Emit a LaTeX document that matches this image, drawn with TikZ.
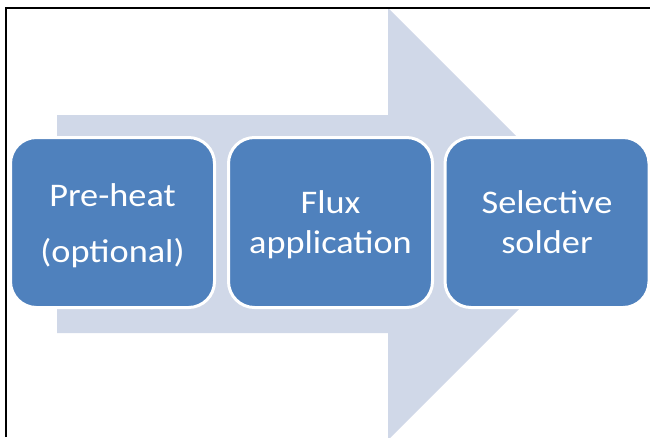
\documentclass[tikz,border=0pt]{standalone}
\usepackage{fontspec}
\usepackage{graphicx}
\setmainfont{Carlito}
\definecolor{shaftblue}{HTML}{D0D8E8}
\definecolor{stepblue}{HTML}{4F81BD}
\tikzset{
  stepbox/.style={draw=white, line width=3pt, fill=stepblue,
    rounded corners=26pt, minimum width=204pt, minimum height=170pt,
    inner sep=0pt},
  steplabel/.style={text=white, anchor=base, inner sep=0pt,
    font=\fontsize{33}{40}\selectfont},
  frameline/.style={draw=black, line width=2.2pt}
}
\newcommand{\widetext}[1]{\scalebox{1.1}[1]{#1}}
\begin{document}
\begin{tikzpicture}[x=1pt, y=-1pt]
  \useasboundingbox (0,0) rectangle (650,437);
  % big process arrow behind the steps, cut at the frame
  \begin{scope}
    \clip (7,9.5) rectangle (650,437);
    \fill[shaftblue] (57,115) -- (388,115) -- (388,8) -- (604,224)
      -- (388,440) -- (388,333) -- (57,333) -- cycle;
  \end{scope}
  % frame: top and left edges
  \coordinate (fbl) at (6,437);
  \coordinate (ftl) at (6,8.3);
  \coordinate (ftr) at (650,8.3);
  \draw[frameline] (fbl) -- (ftl) -- (ftr);
  % process steps
  \node[stepbox] (b1) at (112.5,222.5) {};
  \node[stepbox] (b2) at (330.5,222.5) {};
  \node[stepbox] (b3) at (547,222.5) {};
  % step texts
  \node[steplabel] (t1a) at (112.5,206) {\widetext{Pre-heat}};
  \node[steplabel] (t1b) at (112.5,262) {\widetext{(optional)}};
  \node[steplabel] (t2a) at (330.5,213) {\widetext{Flux}};
  \node[steplabel] (t2b) at (330.5,253) {\widetext{application}};
  \node[steplabel] (t3a) at (547,213) {\widetext{Selective}};
  \node[steplabel] (t3b) at (547,253) {\widetext{solder}};
\end{tikzpicture}
\end{document}
